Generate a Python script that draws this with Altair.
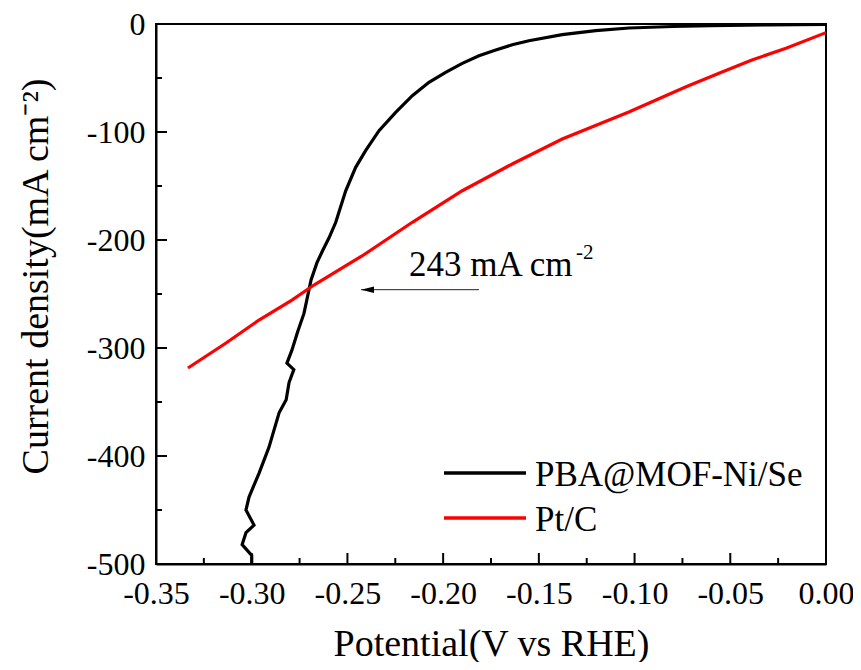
import altair as alt
import pandas as pd

# ---------------- data ----------------
series_names = ["PBA@MOF-Ni/Se", "Pt/C"]
series_colors = ["#000000", "#ff0000"]

black_v = [0.000, -0.030, -0.060, -0.080, -0.1029, -0.1203, -0.1378, -0.1552,
           -0.1639, -0.1725, -0.1813, -0.1900, -0.1987, -0.2074, -0.2161,
           -0.2248, -0.2335, -0.2405, -0.2457, -0.2509, -0.2561, -0.2596,
           -0.2630, -0.2659, -0.2690, -0.2727, -0.2760, -0.2790, -0.2816,
           -0.2780, -0.2805, -0.2820, -0.2857, -0.2910, -0.2962, -0.3014,
           -0.3030, -0.2988, -0.3030, -0.3050, -0.3000, -0.3000]
black_j = [-0.3, -0.8, -1.5, -2.3, -3.7, -6.2, -9.9, -15.5,
           -19.2, -24.1, -29.4, -36.4, -44.7, -54.0, -66.4,
           -81.8, -98.8, -117.3, -132.7, -154.4, -183.6, -198.0,
           -210.0, -221.0, -237.0, -268.0, -285.0, -302.0, -314.0,
           -320.0, -332.0, -348.0, -360.0, -392.0, -416.0, -438.0,
           -450.0, -464.0, -471.0, -482.0, -492.0, -500.0]

red_v = [0.000, -0.0209, -0.0387, -0.0559, -0.0731, -0.1030, -0.1378,
         -0.1639, -0.1900, -0.2161, -0.2424, -0.2675, -0.2790, -0.2962,
         -0.3134, -0.3333]
red_j = [-8.0, -22.5, -33.3, -45.6, -58.1, -81.5, -106.5,
         -129.6, -154.4, -183.6, -214.8, -241.7, -255.6, -274.1,
         -295.4, -318.5]

x_major = [-0.35, -0.30, -0.25, -0.20, -0.15, -0.10, -0.05, 0.0]
x_minor = [-0.325, -0.275, -0.225, -0.175, -0.125, -0.075, -0.025]
y_major = [0, -100, -200, -300, -400, -500]
y_minor = [-50, -150, -250, -350, -450]

annotation_text = "243 mA cm"
annotation_sup = "-2"
annotation_v = -0.2178
annotation_j = -233.0
arrow_v_start = -0.1813
arrow_v_end = -0.2429
arrow_j = -246.0

# ---------------- chart ----------------
W, H = 670, 540
FONT = "Liberation Serif"

rows = []
for name, vs, js in [(series_names[0], black_v, black_j), (series_names[1], red_v, red_j)]:
    for i, (v, j) in enumerate(zip(vs, js)):
        rows.append({"V": v, "J": j, "series": name, "idx": i})
df = pd.DataFrame(rows)

xscale = alt.Scale(domain=[-0.35, 0.0], nice=False, zero=False)
yscale = alt.Scale(domain=[-500, 0], nice=False, zero=False)

x_axis = alt.Axis(
    values=x_major, ticks=False, tickSize=0, grid=False,
    domainColor="black", domainWidth=2,
    labelFont=FONT, labelFontSize=32, labelColor="black",
    labelPadding=39, labelBaseline="alphabetic", labelFlush=False, labelOverlap=False,
    labelExpr="datum.value == 0 ? '0.00' : '-' + format(-datum.value, '.2f')",
    title="Potential(V vs RHE)", titleFont=FONT, titleFontSize=38,
    titleFontWeight="normal", titleColor="black",
    titleBaseline="alphabetic", titleY=91, titleX=W / 2,
)
y_axis = alt.Axis(
    values=y_major, ticks=False, tickSize=0, grid=False,
    domainColor="black", domainWidth=2,
    labelFont=FONT, labelFontSize=32, labelColor="black",
    labelPadding=11, labelFlush=False, labelOverlap=False,
    labelExpr="datum.value == 0 ? '0' : '-' + format(-datum.value, 'd')",
    title="Current density(mA cm\u207b\u00b2)", titleFont=FONT, titleFontSize=38,
    titleFontWeight="normal", titleColor="black",
    titleAngle=270, titleBaseline="alphabetic", titleAlign="center",
    titleX=-109, titleY=252,
)

lines = alt.Chart(df).mark_line(strokeWidth=3.2, clip=True).encode(
    x=alt.X("V:Q", scale=xscale, axis=x_axis),
    y=alt.Y("J:Q", scale=yscale, axis=y_axis),
    color=alt.Color("series:N", scale=alt.Scale(domain=series_names, range=series_colors), legend=None),
    order=alt.Order("idx:Q"),
    detail="series:N",
)

xmaj = alt.Chart(pd.DataFrame({"V": x_major})).mark_rule(color="black", strokeWidth=2).encode(
    x=alt.X("V:Q", scale=xscale), y=alt.value(H), y2=alt.value(H - 11))
xmin = alt.Chart(pd.DataFrame({"V": x_minor})).mark_rule(color="black", strokeWidth=2).encode(
    x=alt.X("V:Q", scale=xscale), y=alt.value(H), y2=alt.value(H - 6))
ymaj = alt.Chart(pd.DataFrame({"J": y_major})).mark_rule(color="black", strokeWidth=2).encode(
    y=alt.Y("J:Q", scale=yscale), x=alt.value(0), x2=alt.value(11))
ymin = alt.Chart(pd.DataFrame({"J": y_minor})).mark_rule(color="black", strokeWidth=2).encode(
    y=alt.Y("J:Q", scale=yscale), x=alt.value(0), x2=alt.value(6))

ann_df = pd.DataFrame({"V": [annotation_v], "J": [annotation_j],
                       "t": [annotation_text], "s": [annotation_sup]})
ann = alt.Chart(ann_df).mark_text(align="left", baseline="alphabetic", font=FONT,
                                  fontSize=35, color="black").encode(
    x=alt.X("V:Q", scale=xscale), y=alt.Y("J:Q", scale=yscale), text="t:N")
ann_sup = alt.Chart(ann_df).mark_text(align="left", baseline="alphabetic", font=FONT,
                                      fontSize=21, color="black", dx=167, dy=-17).encode(
    x=alt.X("V:Q", scale=xscale), y=alt.Y("J:Q", scale=yscale), text="s:N")

arr_df = pd.DataFrame({"V": [arrow_v_start], "V2": [arrow_v_end], "J": [arrow_j]})
arrow_line = alt.Chart(arr_df).mark_rule(color="#222222", strokeWidth=1).encode(
    x=alt.X("V:Q", scale=xscale), x2="V2:Q", y=alt.Y("J:Q", scale=yscale))
head_df = pd.DataFrame({"V": [arrow_v_end], "J": [arrow_j]})
arrow_head = alt.Chart(head_df).mark_point(
    shape="M0,0L2,-0.5L2,0.5Z", filled=True, size=169, color="black", opacity=1).encode(
    x=alt.X("V:Q", scale=xscale), y=alt.Y("J:Q", scale=yscale))

# manual legend (bottom-right inside the plot)
legend_layers = []
legend_rows_y = [449, 494]
for name, col, yy in zip(series_names, series_colors, legend_rows_y):
    ldf = pd.DataFrame({"series": [name]})
    legend_layers.append(alt.Chart(ldf).mark_rule(color=col, strokeWidth=3.5).encode(
        x=alt.value(288), x2=alt.value(370), y=alt.value(yy)))
    legend_layers.append(alt.Chart(ldf).mark_text(align="left", baseline="middle", font=FONT,
                                                  fontSize=35, color="black").encode(
        x=alt.value(379), y=alt.value(yy + 2), text="series:N"))

chart = alt.layer(lines, xmaj, xmin, ymaj, ymin, arrow_line, arrow_head, ann, ann_sup,
                  *legend_layers).properties(
    width=W, height=H,
    padding={"left": 148, "top": 16, "right": 27, "bottom": 98},
    autosize=alt.AutoSizeParams(type="none"),
    background="white",
).configure_view(stroke="black", strokeWidth=2)

chart.save("out.html", embed_options={"renderer": "svg", "actions": False})
